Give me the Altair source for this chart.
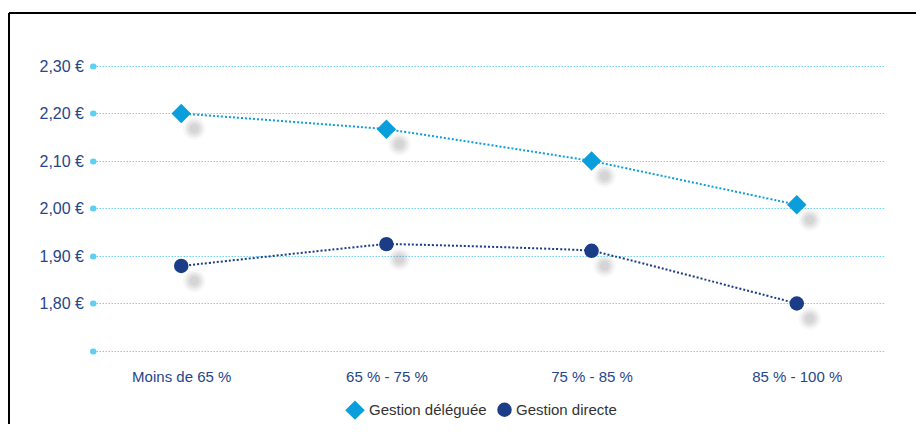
import altair as alt
import pandas as pd

categories = ["Moins de 65 %", "65 % - 75 %", "75 % - 85 %", "85 % - 100 %"]
series_names = ["Gestion déléguée", "Gestion directe"]
delegue = [2.20, 2.167, 2.10, 2.008]
directe = [1.879, 1.925, 1.911, 1.80]
y_ticks = [1.70, 1.80, 1.90, 2.00, 2.10, 2.20, 2.30]

rows = []
for c, v in zip(categories, delegue):
    rows.append({"cat": c, "serie": series_names[0], "val": v})
for c, v in zip(categories, directe):
    rows.append({"cat": c, "serie": series_names[1], "val": v})
df = pd.DataFrame(rows)

FONT = "Liberation Sans Narrow, Liberation Sans, Arial"
LABEL_BLUE = "#26468a"
C_DEL = "#0a9fdc"
C_DIR = "#1b3d88"

x_enc = alt.X("cat:N", sort=categories, scale=alt.Scale(type="point", padding=0.43),
              axis=alt.Axis(title=None, domain=False, ticks=False, grid=False,
                            labelAngle=0, labelFontSize=15, labelColor=LABEL_BLUE,
                            labelFont=FONT, labelPadding=18))
y_enc = alt.Y("val:Q", scale=alt.Scale(domain=[1.70, 2.30], nice=False, zero=False),
              axis=alt.Axis(title=None, values=y_ticks, domain=False,
                            labelExpr="datum.value < 1.75 ? '' : replace(format(datum.value, '.2f'), '.', ',') + ' €'",
                            labelFontSize=16, labelColor=LABEL_BLUE, labelFont=FONT,
                            labelPadding=9, tickSize=0.5, tickWidth=6, tickCap="round",
                            tickColor="#5fd0f2", grid=True, gridColor="#6fd3f3",
                            gridDash=[1.5, 1.5], gridWidth=1.2))

color_scale = alt.Scale(domain=series_names, range=[C_DEL, C_DIR])
shape_scale = alt.Scale(domain=series_names, range=["diamond", "circle"])

base = alt.Chart(df)

shadows = alt.layer(*[
    base.mark_circle(xOffset=13, yOffset=15, color="#808080", opacity=op, size=s).encode(
        x=x_enc, y=y_enc)
    for s, op in [(520, 0.06), (340, 0.09), (200, 0.11), (90, 0.12)]
])

line_layers = [
    base.transform_filter(alt.datum.serie == name).mark_line(
        interpolate="cardinal", tension=0.85, strokeDash=[2, 2], strokeWidth=2, color=col
    ).encode(x=x_enc, y=y_enc)
    for name, col in zip(series_names, [C_DEL, C_DIR])
]

points = base.mark_point(filled=True, opacity=1).encode(
    x=x_enc, y=y_enc,
    color=alt.Color("serie:N", scale=color_scale,
                    legend=alt.Legend(title=None, orient="none", direction="horizontal",
                                      legendX=252, legendY=334,
                                      labelFontSize=15, labelColor="#333333", labelFont=FONT,
                                      symbolSize=340, symbolStrokeWidth=0,
                                      columnPadding=10)),
    shape=alt.Shape("serie:N", scale=shape_scale),
    size=alt.Size("serie:N", scale=alt.Scale(domain=series_names, range=[380, 210]), legend=None),
)

frame_top = alt.Chart(pd.DataFrame({"k": [0]})).mark_rule(color="black", strokeWidth=2).encode(
    x=alt.value(-84), x2=alt.value(900), y=alt.value(-53))
frame_left = alt.Chart(pd.DataFrame({"k": [0]})).mark_rule(color="black", strokeWidth=2).encode(
    x=alt.value(-84), y=alt.value(-53), y2=alt.value(420))

chart = alt.layer(frame_top, frame_left, shadows, *line_layers, points).properties(
    width=792, height=285,
    padding={"left": 85, "top": 58, "right": 31, "bottom": 73},
    autosize=alt.AutoSizeParams(type="none"),
    background="white",
).configure_view(stroke=None)

chart.save("out.html", embed_options={"renderer": "svg", "actions": False})
